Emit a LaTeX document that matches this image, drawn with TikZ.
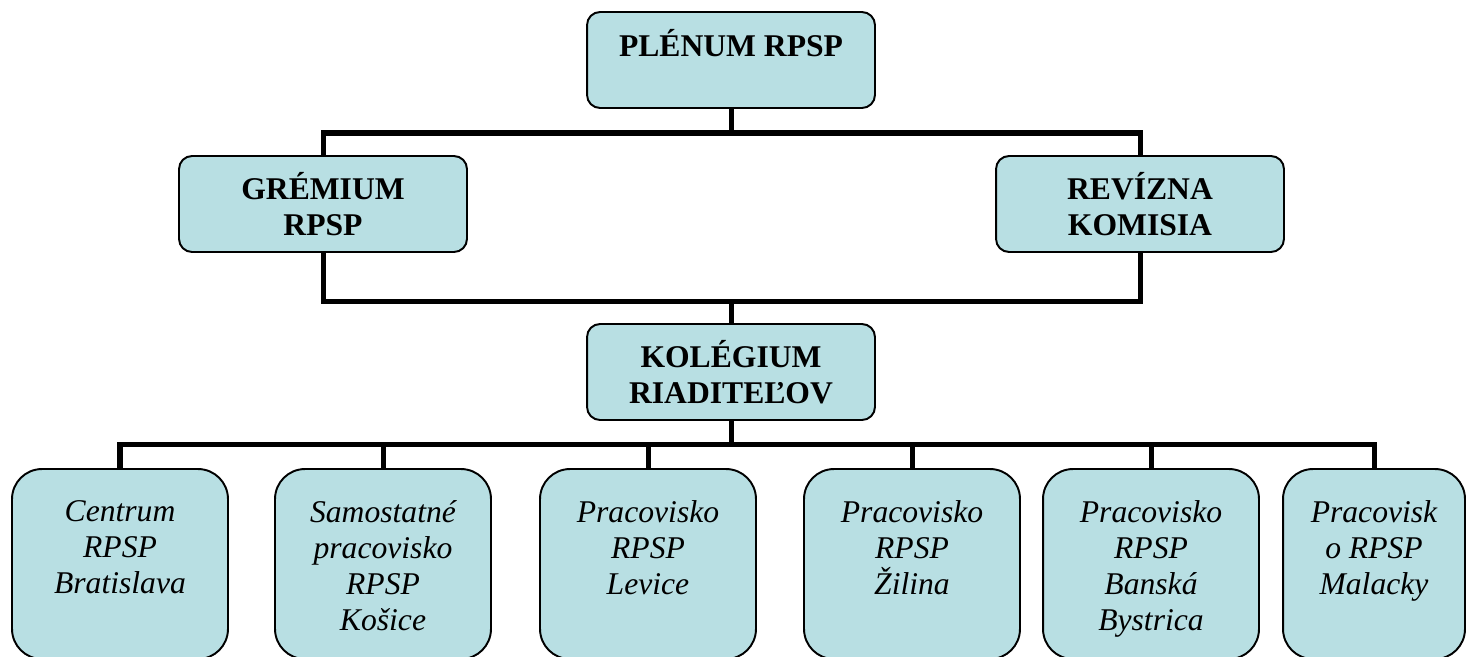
\documentclass[tikz,border=0pt]{standalone}
\usepackage{fontspec}
\setmainfont{Liberation Serif}
\usetikzlibrary{positioning}
\definecolor{boxBlue}{RGB}{184,223,227}

\begin{document}
\begin{tikzpicture}[x=0.02cm, y=-0.02cm,
    boxFont/.style={font=\fontsize{18}{20.5}\selectfont\bfseries},
    unitFont/.style={font=\fontsize{18}{20.5}\selectfont\itshape},
    orgBox/.style={draw=black, line width=1.1pt, fill=boxBlue, rounded corners=0.26cm,
                   minimum width=5.76cm, minimum height=1.92cm, inner sep=0pt, align=center, boxFont},
    unitBox/.style={draw=black, line width=1.1pt, fill=boxBlue, rounded corners=0.6cm,
                    minimum width=4.32cm, minimum height=3.8cm, inner sep=0pt},
    unitText/.style={anchor=north, yshift=-0.64cm, inner sep=0pt, align=center, unitFont},
    link/.style={line width=2.85pt}]

\useasboundingbox (0,0) rectangle (1467,656);
\clip (0,0) rectangle (1467,656);

% TOP LEVEL
\node[orgBox, label={[anchor=north, yshift=-0.36cm, inner sep=0pt, boxFont]north:PLÉNUM RPSP}] (plenum) at (731,60) {};
\node[orgBox] (gremium) at (323,204) {GRÉMIUM\\RPSP};
\node[orgBox] (revizna) at (1140,204) {REVÍZNA\\KOMISIA};
\node[orgBox] (kolegium) at (731,372) {KOLÉGIUM\\RIADITEĽOV};

% WORKPLACES
\node[unitBox, label={[unitText]north:Centrum\\RPSP\\Bratislava}] (centrumBA) at (120,564) {};
\node[unitBox, label={[unitText]north:Samostatné\\pracovisko\\RPSP\\Košice}] (pracKE) at (383,564) {};
\node[unitBox, label={[unitText]north:Pracovisko\\RPSP\\Levice}] (pracLV) at (648,564) {};
\node[unitBox, label={[unitText]north:Pracovisko\\RPSP\\Žilina}] (pracZA) at (912,564) {};
\node[unitBox, label={[unitText]north:Pracovisko\\RPSP\\Banská\\Bystrica}] (pracBB) at (1151,564) {};
\node[unitBox, minimum width=3.64cm, label={[unitText]north:Pracovisk\\o RPSP\\Malacky}] (pracMA) at (1374,564) {};

% CONNECTORS
\coordinate (topBus) at (731,133);
\coordinate (midBus) at (731,301);
\coordinate (lowBus) at (731,444);

\draw[link] (plenum.south) -- (topBus);
\draw[link] (gremium.north) |- (topBus) -| (revizna.north);
\draw[link] (gremium.south) |- (midBus) -| (revizna.south);
\draw[link] (midBus) -- (kolegium.north);
\draw[link] (kolegium.south) -- (lowBus);
\draw[link] (centrumBA.north) |- (lowBus) -| (pracMA.north);
\foreach \unit in {pracKE, pracLV, pracZA, pracBB}
  \draw[link] (\unit.north) -- (\unit.north |- lowBus);

\end{tikzpicture}
\end{document}
